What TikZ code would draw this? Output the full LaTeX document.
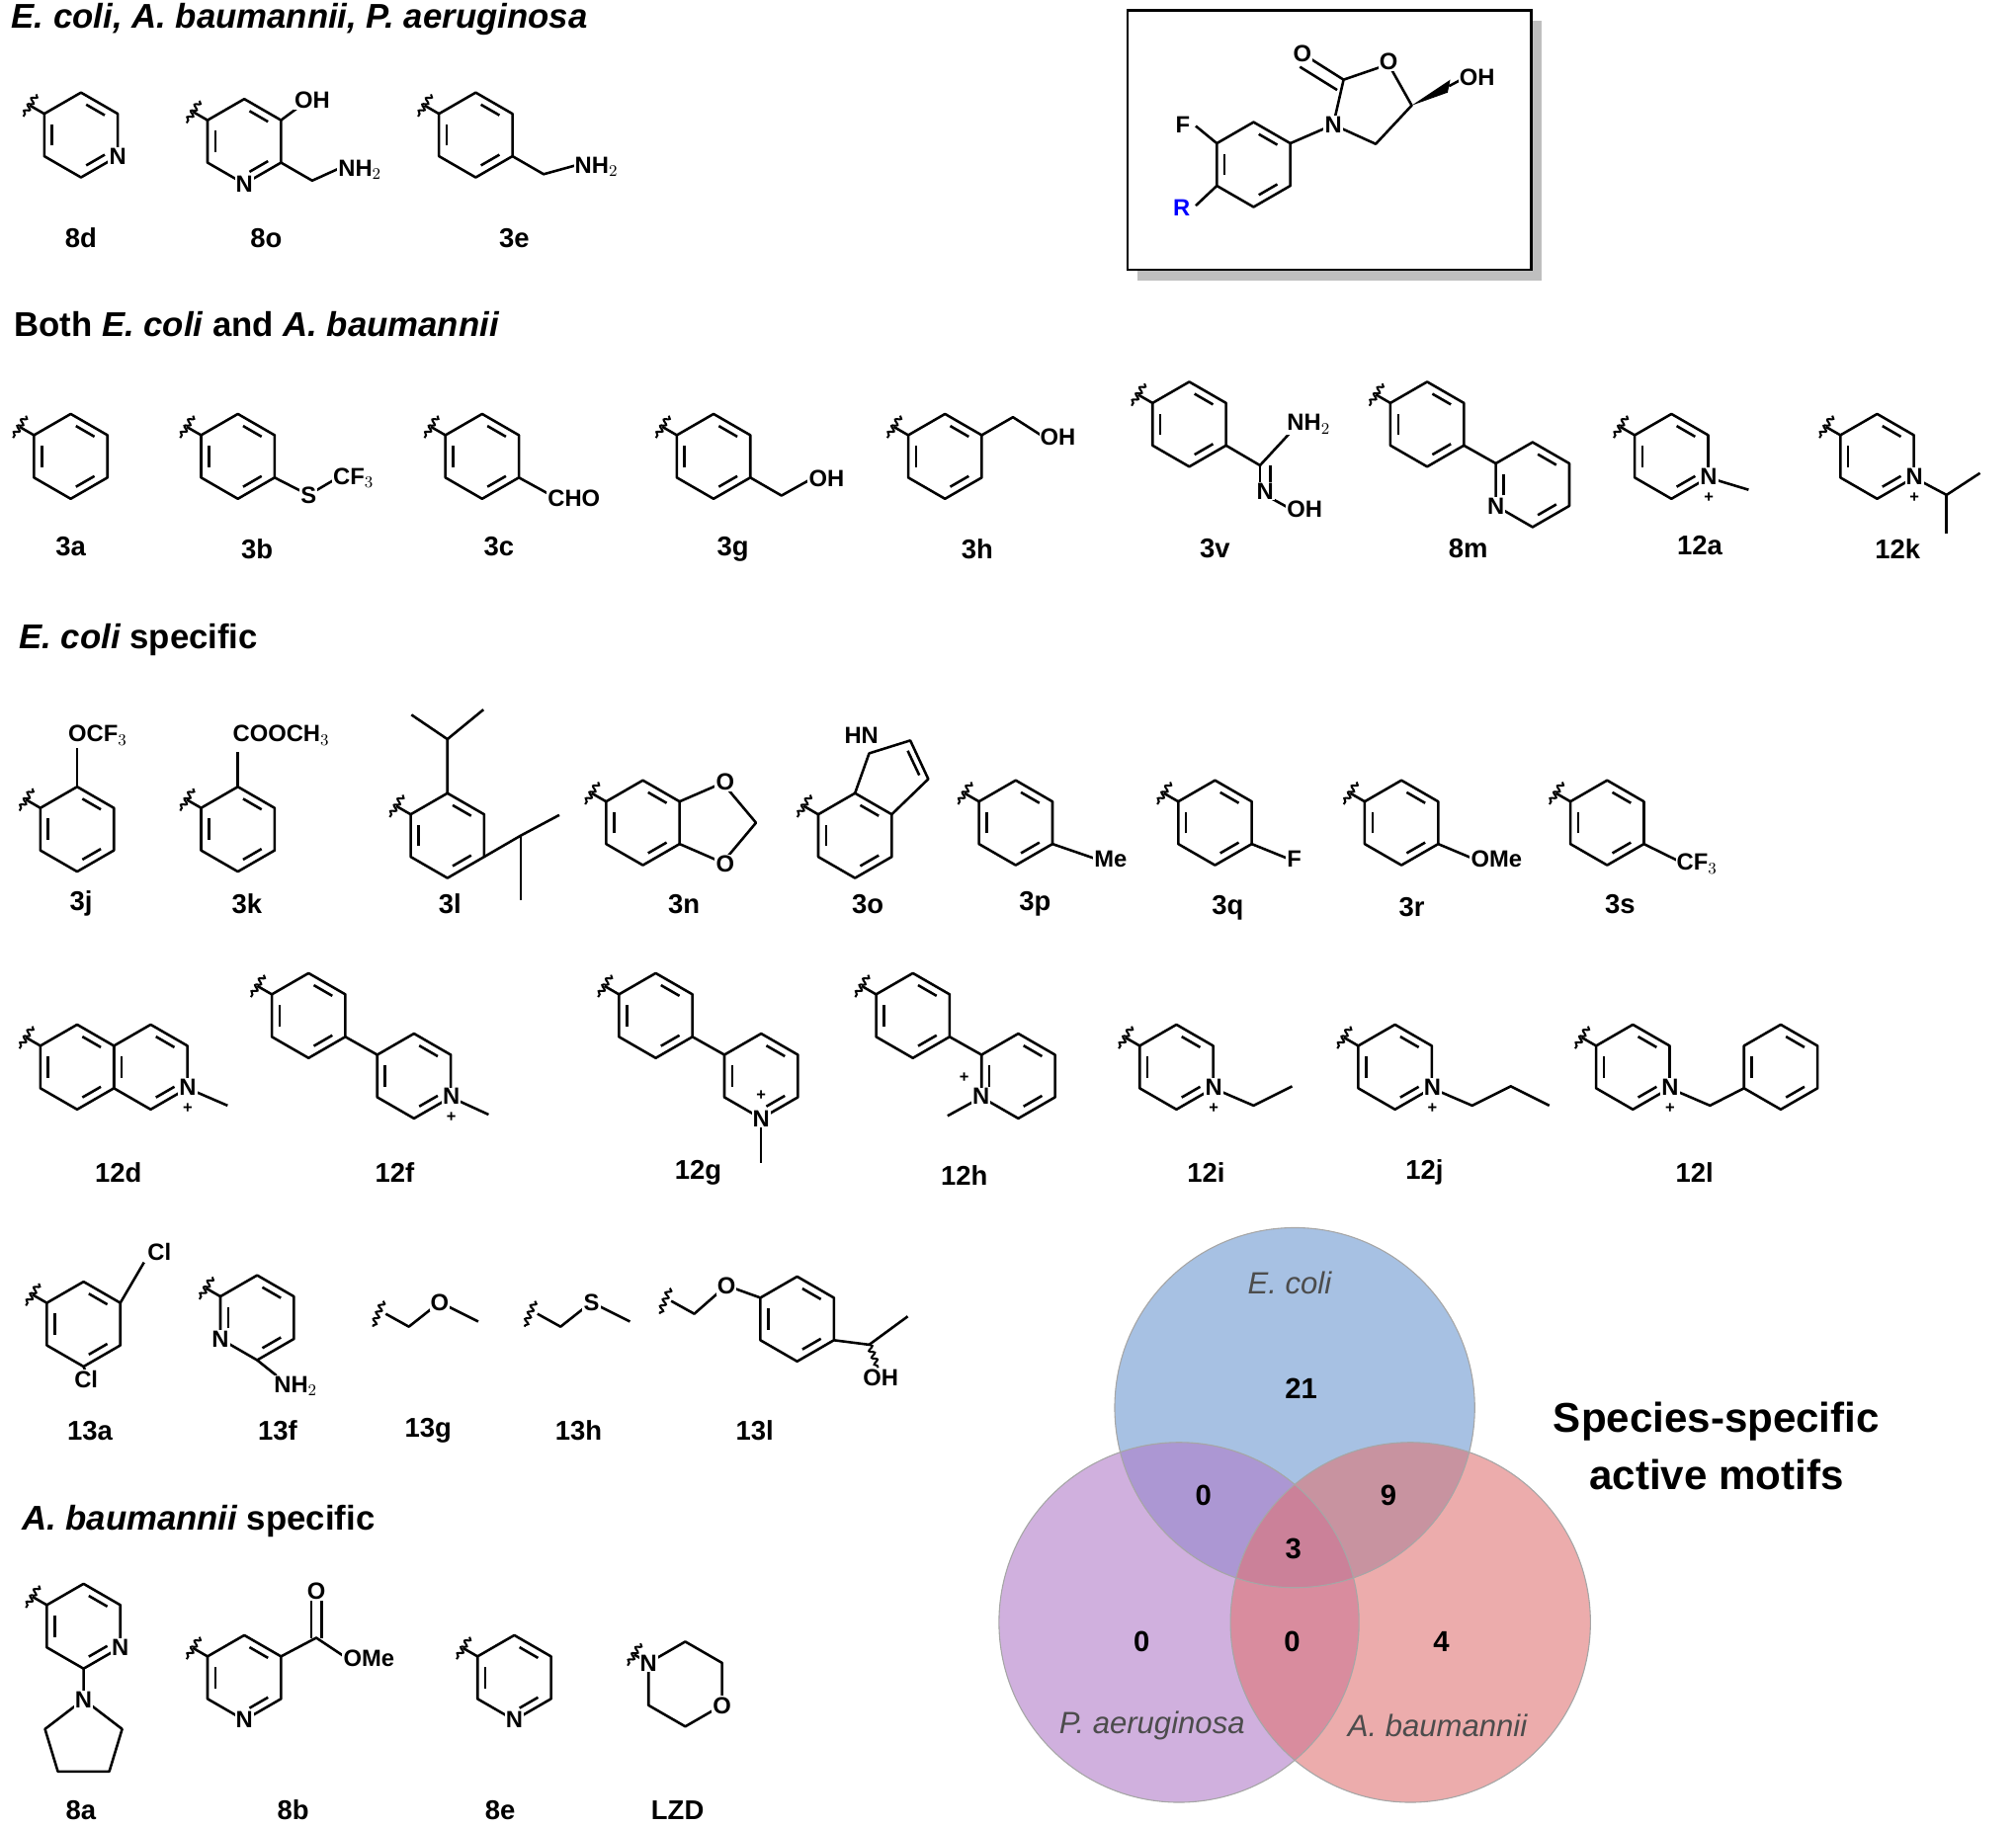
\documentclass[tikz,border=0pt]{standalone}
\usepackage{fontspec}
\setmainfont{Liberation Sans}
\usetikzlibrary{calc,decorations.pathmorphing}
\def\R{33}
\definecolor{vblue}{HTML}{6C98D0}
\definecolor{vpurp}{HTML}{B07CC8}
\definecolor{vred}{HTML}{E07474}
\tikzset{
 bd/.style={line width=1.4pt,line join=round},
 wavy/.style={line width=1.1pt,decorate,decoration={snake,amplitude=1.4pt,segment length=4pt}},
 atm/.style={font=\fontsize{13}{14}\selectfont\bfseries,fill=white,inner sep=0.6pt},
 lab/.style={font=\fontsize{15}{16}\selectfont\bfseries},
 hdr/.style={anchor=west,font=\fontsize{19}{21}\selectfont\bfseries},
 pl/.style={font=\fontsize{9}{9}\selectfont\bfseries,inner sep=0pt},
 vn/.style={font=\fontsize{17}{18}\selectfont\itshape,text=black!70},
 num/.style={font=\fontsize{16}{17}\selectfont\bfseries}
}
\newcommand\inb[4]{\path (#1,#2) +(#3:26) coordinate (pa) +(#4:26) coordinate (pb);
 \draw[bd] ($(pa)!.18!(pb)$) -- ($(pa)!.82!(pb)$);}
\newcommand\hexplain[2]{\draw[bd] (#1,#2)+(30:\R)--+(90:\R)--+(150:\R)--+(210:\R)--+(270:\R)--+(330:\R)--cycle;}
\newcommand\hexring[2]{\hexplain{#1}{#2}\inb{#1}{#2}{30}{90}\inb{#1}{#2}{150}{210}\inb{#1}{#2}{270}{330}}
\newcommand\wv[3]{\path (#1,#2)+(#3:\R) coordinate (wa) +(#3:\R+13) coordinate (wb);
 \draw[bd] (wa)--(wb); \draw[wavy] (wb)+(#3+90:10) -- +(#3-90:10);}
\newcommand\ratom[4]{\node[atm] at ($(#1,#2)+(#3:\R)$) {#4};}
\newcommand\Np[2]{\node[atm] at (#1,#2) {N}; \node[pl] at (#1,#2+16) {+};}
\begin{document}
\begin{tikzpicture}[x=0.025cm,y=-0.025cm]
\useasboundingbox (0,0) rectangle (1568,1421);
% headers
\node[hdr] at (4,15) {\itshape E. coli, A. baumannii, P. aeruginosa};
\node[hdr] at (6,252) {Both \itshape E. coli\upshape\ and \itshape A. baumannii};
\node[hdr] at (10,498) {\itshape E. coli\upshape\ specific};
\node[hdr] at (12,1183) {\itshape A. baumannii\upshape\ specific};
% ===== row 1
\hexring{63}{105}\wv{63}{105}{210}\ratom{63}{105}{30}{N}
\node[lab] at (63,185) {8d};
\hexring{190}{110}\wv{190}{110}{210}
\draw[bd] ($(190,110)+(330:\R)$) -- (234,82);
\node[atm,anchor=west] at (228,78) {OH};
\draw[bd] ($(190,110)+(30:\R)$) -- ++(30:28) -- (266,130);
\node[atm,anchor=west] at (262,132) {NH$_2$};
\ratom{190}{110}{90}{N}
\node[lab] at (207,185) {8o};
\hexring{370}{105}\wv{370}{105}{210}
\draw[bd] ($(370,105)+(30:\R)$) -- ++(30:28) -- (450,128);
\node[atm,anchor=west] at (446,130) {NH$_2$};
\node[lab] at (400,185) {3e};
% core box
\fill[black!25] (885,16) rectangle (1199,218);
\draw[line width=1.3pt,fill=white] (877,8) rectangle (1191,210);
\hexring{975}{128}
\draw[bd] ($(975,128)+(210:\R)$) -- (930,98);
\node[atm] at (920,97) {F};
\draw[bd] ($(975,128)+(150:\R)$) -- (930,160);
\node[atm,text=blue] at (919,162) {R};
\draw[bd] ($(975,128)+(330:\R)$) -- (1037,97) -- (1045,62) -- (1080,50) -- (1098,82) -- (1070,112) -- (1037,97);
\draw[bd] (1045,62) -- (1015,43);
\draw[bd] (1040,70) -- (1011,52);
\fill (1098,82) -- (1128,62) -- (1126,72) -- cycle;
\draw[bd] (1127,67) -- (1140,60);
\node[atm] at (1037,97) {N};
\node[atm] at (1080,48) {O};
\node[atm] at (1013,42) {O};
\node[atm,anchor=west] at (1134,60) {OH};
% ===== row 2
\hexring{55}{355}\wv{55}{355}{210}\node[lab] at (55,425) {3a};
\hexring{185}{355}\wv{185}{355}{210}
\draw[bd] ($(185,355)+(30:\R)$) -- (240,385) -- (262,372);
\node[atm] at (240,385) {S}; \node[atm,anchor=west] at (258,372) {CF$_3$};
\node[lab] at (200,427) {3b};
\hexring{375}{355}\wv{375}{355}{210}
\draw[bd] ($(375,355)+(30:\R)$) -- (430,386);
\node[atm,anchor=west] at (425,388) {CHO};
\node[lab] at (388,425) {3c};
\hexring{555}{355}\wv{555}{355}{210}
\draw[bd] ($(555,355)+(30:\R)$) -- ++(30:28) -- (632,372);
\node[atm,anchor=west] at (628,372) {OH};
\node[lab] at (570,427) {3g};
\hexring{735}{355}\wv{735}{355}{210}
\draw[bd] ($(735,355)+(330:\R)$) -- ++(330:28) -- (812,340);
\node[atm,anchor=west] at (808,340) {OH};
\node[lab] at (760,427) {3h};
\hexring{925}{330}\wv{925}{330}{210}
\draw[bd] ($(925,330)+(30:\R)$) -- (980,362) -- (1004,336);
\draw[bd] (980,362) -- (980,385); \draw[bd] (988,362) -- (988,385);
\draw[bd] (984,385) -- (1004,396);
\node[atm] at (984,382) {N};
\node[atm,anchor=west] at (1000,330) {NH$_2$};
\node[atm,anchor=west] at (1000,396) {OH};
\node[lab] at (945,427) {3v};
\hexring{1110}{330}\wv{1110}{330}{210}
\draw[bd] ($(1110,330)+(30:\R)$) -- ($(1192,377)+(210:\R)$);
\hexring{1192}{377}\ratom{1192}{377}{150}{N}
\node[lab] at (1142,427) {8m};
\hexring{1300}{355}\wv{1300}{355}{210}
\draw[bd] ($(1300,355)+(30:\R)$) -- (1360,381);
\Np{1329}{371}
\node[lab] at (1322,424) {12a};
\hexring{1460}{355}\wv{1460}{355}{210}
\draw[bd] ($(1460,355)+(30:\R)$) -- (1514,385) -- (1540,368);
\draw[bd] (1514,385) -- (1514,415);
\Np{1489}{371}
\node[lab] at (1476,427) {12k};
% ===== row 3
\hexring{60}{645}\wv{60}{645}{210}
\draw[bd] ($(60,645)+(270:\R)$) -- (60,582);
\node[atm,anchor=west] at (52,572) {OCF$_3$};
\node[lab] at (63,703) {3j};
\hexring{185}{645}\wv{185}{645}{210}
\draw[bd] ($(185,645)+(270:\R)$) -- (185,585);
\node[atm,anchor=west] at (180,572) {COOCH$_3$};
\node[lab] at (192,703) {3k};
\hexring{348}{650}\wv{348}{650}{210}
\draw[bd] ($(348,650)+(270:\R)$) -- (348,575) -- (320,556);
\draw[bd] (348,575) -- (376,552);
\draw[bd] ($(348,650)+(30:\R)$) -- (405,650) -- (435,634);
\draw[bd] (405,650) -- (405,700);
\node[lab] at (350,703) {3l};
\hexring{500}{640}\wv{500}{640}{210}
\draw[bd] ($(500,640)+(330:\R)$) -- (562,609) -- (588,640) -- (562,671) -- ($(500,640)+(30:\R)$);
\node[atm] at (564,608) {O}; \node[atm] at (564,672) {O};
\node[lab] at (532,703) {3n};
\hexring{665}{650}\wv{665}{650}{210}
\draw[bd] ($(665,650)+(270:\R)$) -- (676,586) -- (708,576) -- (722,606) -- ($(665,650)+(330:\R)$);
\draw[bd] (706,584) -- (715,603);
\node[atm] at (670,572) {HN};
\node[lab] at (675,703) {3o};
\hexring{790}{640}\wv{790}{640}{210}
\draw[bd] ($(790,640)+(30:\R)$) -- (852,668);
\node[atm,anchor=west] at (850,668) {Me};
\node[lab] at (805,703) {3p};
\hexring{945}{640}\wv{945}{640}{210}
\draw[bd] ($(945,640)+(30:\R)$) -- (1002,668);
\node[atm,anchor=west] at (1000,668) {F};
\node[lab] at (955,706) {3q};
\hexring{1090}{640}\wv{1090}{640}{210}
\draw[bd] ($(1090,640)+(30:\R)$) -- (1146,668);
\node[atm,anchor=west] at (1143,668) {OMe};
\node[lab] at (1098,706) {3r};
\hexring{1250}{640}\wv{1250}{640}{210}
\draw[bd] ($(1250,640)+(30:\R)$) -- (1306,670);
\node[atm,anchor=west] at (1303,672) {CF$_3$};
\node[lab] at (1260,703) {3s};
% ===== row 4
\hexring{60}{830}\wv{60}{830}{210}
\hexring{117.2}{830}
\draw[bd] ($(117.2,830)+(30:\R)$) -- (177,860);
\Np{146}{846}
\node[lab] at (92,912) {12d};
\hexring{240}{790}\wv{240}{790}{210}
\draw[bd] ($(240,790)+(30:\R)$) -- ($(322,837)+(210:\R)$);
\hexring{322}{837}
\draw[bd] ($(322,837)+(30:\R)$) -- (380,867);
\Np{351}{853}
\node[lab] at (307,912) {12f};
\hexring{510}{790}\wv{510}{790}{210}
\draw[bd] ($(510,790)+(30:\R)$) -- ($(592,837)+(210:\R)$);
\hexring{592}{837}
\draw[bd] ($(592,837)+(90:\R)$) -- (592,905);
\node[atm] at (592,870) {N}; \node[pl] at (592,852) {+};
\node[lab] at (543,912) {12g};
\hexring{710}{790}\wv{710}{790}{210}
\draw[bd] ($(710,790)+(30:\R)$) -- ($(792,837)+(210:\R)$);
\hexring{792}{837}
\draw[bd] ($(792,837)+(150:\R)$) -- (737,868);
\node[atm] at (763,853) {N}; \node[pl] at (750,838) {+};
\node[lab] at (750,914) {12h};
\hexring{915}{830}\wv{915}{830}{210}
\draw[bd] ($(915,830)+(30:\R)$) -- (975,860) -- (1005,845);
\Np{944}{846}
\node[lab] at (938,912) {12i};
\hexring{1085}{830}\wv{1085}{830}{210}
\draw[bd] ($(1085,830)+(30:\R)$) -- (1145,860) -- (1175,845) -- (1205,860);
\Np{1114}{846}
\node[lab] at (1108,912) {12j};
\hexring{1270}{830}\wv{1270}{830}{210}
\draw[bd] ($(1270,830)+(30:\R)$) -- (1330,860) -- ($(1385,830)+(150:\R)$);
\hexring{1385}{830}
\Np{1299}{846}
\node[lab] at (1318,912) {12l};
% ===== row 5
\hexring{65}{1030}\wv{65}{1030}{210}
\draw[bd] ($(65,1030)+(330:\R)$) -- (112,982);
\node[atm] at (124,974) {Cl};
\draw[bd] ($(65,1030)+(90:\R)$) -- (67,1068);
\node[atm] at (67,1073) {Cl};
\node[lab] at (70,1113) {13a};
\hexring{200}{1025}\wv{200}{1025}{210}\ratom{200}{1025}{150}{N}
\draw[bd] ($(200,1025)+(90:\R)$) -- (215,1070);
\node[atm] at (230,1078) {NH$_2$};
\node[lab] at (216,1113) {13f};
\draw[bd] (300,1022) -- (318,1032) -- (342,1013) -- (372,1028);
\draw[wavy] (298,1012) -- (290,1032);
\node[atm] at (342,1013) {O};
\node[lab] at (333,1113) {13g};
\draw[bd] (418,1022) -- (436,1032) -- (460,1013) -- (490,1028);
\draw[wavy] (416,1012) -- (408,1032);
\node[atm] at (460,1013) {S};
\node[lab] at (450,1113) {13h};
\draw[bd] (522,1012) -- (540,1022) -- (565,1000) -- ($(620,1026)+(210:\R)$);
\draw[wavy] (521,1002) -- (513,1022);
\node[atm] at (565,1000) {O};
\hexring{620}{1026}
\draw[bd] ($(620,1026)+(30:\R)$) -- (676,1046) -- (706,1024);
\draw[wavy] (676,1046) -- (683,1064);
\node[atm] at (685,1072) {OH};
\node[lab] at (587,1113) {13l};
% ===== row 6
\hexring{65}{1265}\wv{65}{1265}{210}\ratom{65}{1265}{30}{N}
\draw[bd] ($(65,1265)+(90:\R)$) -- (65,1322) -- (95,1345) -- (85,1378) -- (45,1378) -- (35,1345) -- (65,1322);
\node[atm] at (65,1322) {N};
\node[lab] at (63,1408) {8a};
\hexring{190}{1305}\wv{190}{1305}{210}\ratom{190}{1305}{90}{N}
\draw[bd] ($(190,1305)+(330:\R)$) -- (246,1274) -- (270,1290);
\draw[bd] (242,1274) -- (242,1244); \draw[bd] (250,1274) -- (250,1244);
\node[atm] at (246,1238) {O};
\node[atm,anchor=west] at (266,1290) {OMe};
\node[lab] at (228,1408) {8b};
\hexring{400}{1305}\wv{400}{1305}{210}\ratom{400}{1305}{90}{N}
\node[lab] at (389,1408) {8e};
\hexplain{533}{1310}\wv{533}{1310}{210}
\ratom{533}{1310}{210}{N}\ratom{533}{1310}{30}{O}
\node[lab] at (527,1408) {LZD};
% ===== Venn
\fill[vblue,fill opacity=0.6] (1007,1095) circle (140);
\fill[vpurp,fill opacity=0.6] (917,1262) circle (140);
\fill[vred,fill opacity=0.6] (1097,1262) circle (140);
\draw[black!35,line width=0.6pt] (1007,1095) circle (140) (917,1262) circle (140) (1097,1262) circle (140);
\node[vn] at (1003,998) {E. coli};
\node[vn] at (896,1342) {P. aeruginosa};
\node[vn] at (1118,1342) {A. baumannii};
\node[num] at (1012,1080) {21};
\node[num] at (936,1163) {0};
\node[num] at (1080,1163) {9};
\node[num] at (1006,1205) {3};
\node[num] at (888,1277) {0};
\node[num] at (1005,1277) {0};
\node[num] at (1121,1277) {4};
\node[font=\fontsize{23}{32}\selectfont\bfseries,align=center] at (1335,1125) {Species-specific\\active motifs};
\end{tikzpicture}
\end{document}
